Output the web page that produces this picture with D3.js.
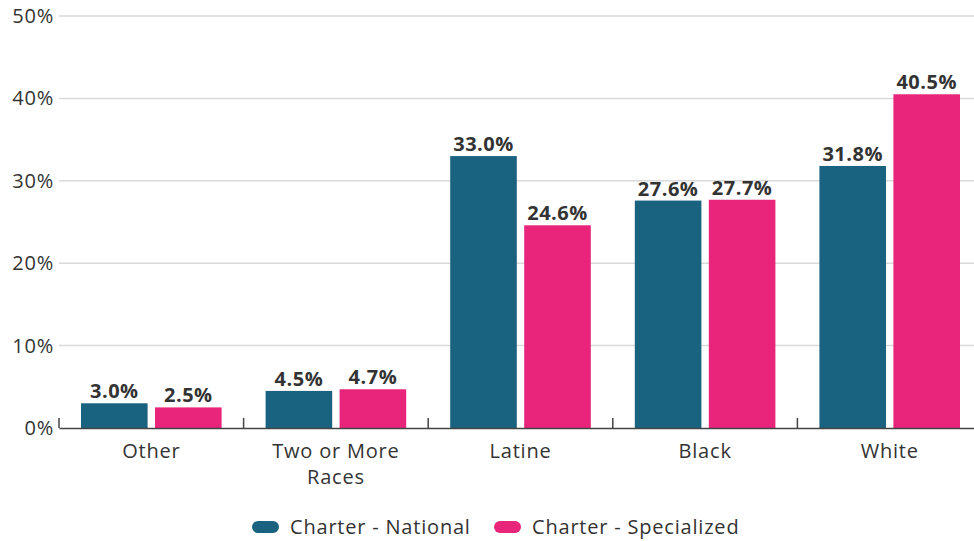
<!DOCTYPE html>
<html>
<head>
<meta charset="utf-8">
<script src="https://cdn.jsdelivr.net/npm/d3@7"></script>
<style>
  body { margin: 0; background: #fff; }
  svg { display: block; font-family: "Open Sans", Lato, sans-serif; }
</style>
</head>
<body>
<svg id="chart" width="974" height="541"></svg>
<script>
var categories = ["Other", "Two or More Races", "Latine", "Black", "White"];
var seriesNames = ["Charter - National", "Charter - Specialized"];
var national = [3.0, 4.5, 33.0, 27.6, 31.8];
var specialized = [2.5, 4.7, 24.6, 27.7, 40.5];
var yTicks = [0, 10, 20, 30, 40, 50];
var colors = ["#1a6380", "#e8247b"];

var svg = d3.select("#chart");
var m = {left: 59, right: 982, top: 16, bottom: 428};

var x = d3.scaleBand().domain(categories).range([m.left, m.right]).paddingInner(0).paddingOuter(0);
var x1 = d3.scaleBand().domain(seriesNames).range([22, x.bandwidth() - 22]).paddingInner(0.1);
var y = d3.scaleLinear().domain([0, 50]).range([m.bottom, m.top]);

// gridlines
svg.append("g").selectAll("line").data(yTicks.filter(function(d){ return d > 0; }))
  .enter().append("line")
  .attr("x1", m.left).attr("x2", 974)
  .attr("y1", function(d){ return y(d); }).attr("y2", function(d){ return y(d); })
  .style("stroke", "#d9d9d9").style("stroke-width", 1.5);

// y labels
svg.append("g").selectAll("text").data(yTicks)
  .enter().append("text")
  .attr("x", m.left - 5).attr("y", function(d){ return y(d); })
  .attr("dy", "0.35em")
  .attr("text-anchor", "end")
  .style("font-size", "20px").style("letter-spacing", "0.8px").style("fill", "#333")
  .text(function(d){ return d + "%"; });

var rows = categories.map(function(c, i){ return {cat: c, vals: [national[i], specialized[i]]}; });

var groups = svg.append("g").selectAll("g").data(rows).enter().append("g")
  .attr("transform", function(d){ return "translate(" + x(d.cat) + ",0)"; });

groups.selectAll("rect").data(function(d){ return d.vals.map(function(v, j){ return {s: seriesNames[j], v: v, j: j}; }); })
  .enter().append("rect")
  .attr("x", function(d){ return x1(d.s); })
  .attr("width", x1.bandwidth())
  .attr("y", function(d){ return y(d.v); })
  .attr("height", function(d){ return m.bottom - y(d.v); })
  .style("fill", function(d){ return colors[d.j]; });

groups.selectAll("text").data(function(d){ return d.vals.map(function(v, j){ return {s: seriesNames[j], v: v}; }); })
  .enter().append("text")
  .attr("x", function(d){ return x1(d.s) + x1.bandwidth() / 2; })
  .attr("y", function(d){ return y(d.v) - 5; })
  .attr("text-anchor", "middle")
  .style("font-size", "20px").style("font-weight", "bold").style("letter-spacing", "0.5px").style("fill", "#333")
  .text(function(d){ return d.v.toFixed(1) + "%"; });

// x axis
var xAxis = svg.append("g").attr("transform", "translate(0," + m.bottom + ")")
  .call(d3.axisBottom(x).tickSize(0).tickSizeOuter(0));
xAxis.select(".domain").style("stroke", "#444").style("stroke-width", 1.5);
xAxis.selectAll(".tick text").style("font-size", "20px").style("letter-spacing", "0.8px").style("fill", "#333")
  .style("font-family", "'Open Sans', sans-serif").attr("y", 16).attr("dy", "0.71em");
xAxis.selectAll(".tick text").each(function(d){
  if (d === "Two or More Races") {
    var t = d3.select(this);
    t.text(null);
    t.append("tspan").attr("x", 0).attr("dy", "0.71em").text("Two or More");
    t.append("tspan").attr("x", 0).attr("dy", "1.3em").text("Races");
  }
});
// boundary ticks
svg.append("g").selectAll("line").data(categories)
  .enter().append("line")
  .attr("x1", function(d){ return x(d); }).attr("x2", function(d){ return x(d); })
  .attr("y1", m.bottom - 10).attr("y2", m.bottom)
  .style("stroke", "#444").style("stroke-width", 1.5);

// legend
var legendX = [252, 494];
var legend = svg.append("g").selectAll("g").data(seriesNames).enter().append("g")
  .attr("transform", function(d, i){ return "translate(" + legendX[i] + ",527)"; });
legend.append("rect").attr("x", 0).attr("y", -6).attr("width", 27).attr("height", 12)
  .attr("rx", 6).style("fill", function(d, i){ return colors[i]; });
legend.append("text").attr("x", 38).attr("dy", "0.35em")
  .style("font-size", "20px").style("letter-spacing", "0.8px").style("fill", "#333")
  .text(function(d){ return d; });
</script>
</body>
</html>
